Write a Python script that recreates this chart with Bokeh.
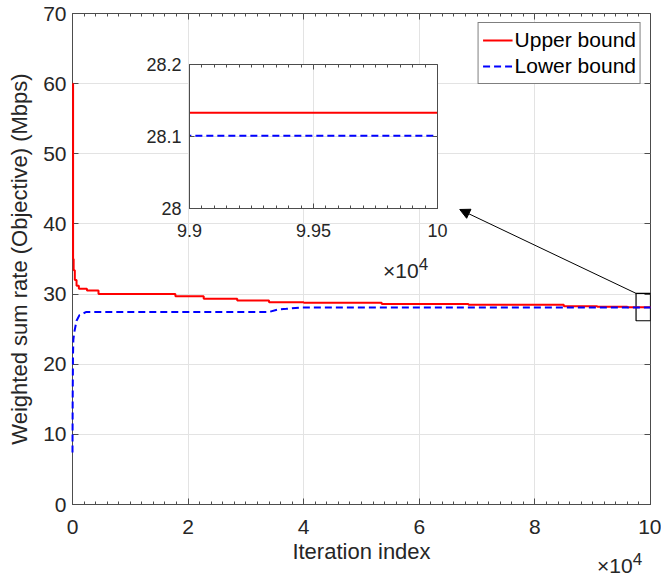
from bokeh.plotting import figure
from bokeh.models import (FixedTicker, CustomJSTickFormatter, LinearAxis, Range1d,
                          Arrow, NormalHead, BoxAnnotation, ColumnDataSource, Div)
from bokeh.layouts import column
from bokeh.embed import file_html
from bokeh.resources import INLINE

# ---------------- data ----------------
upper_iter = [0, 100, 200, 400, 700, 1100, 2500, 4500, 17800, 22700, 28500, 34000,
              40000, 53500, 68500, 85000, 90800, 96000, 100000]
upper_rate = [60.0, 35.0, 33.4, 32.0, 31.2, 30.75, 30.5, 30.0, 29.7, 29.35, 29.1, 28.85,
              28.75, 28.6, 28.47, 28.27, 28.18, 28.133, 28.133]

lower_iter = [0, 30, 80, 150, 300, 700, 1200, 2400, 34000, 35500, 37000, 39500, 60000, 100000]
lower_rate = [7.4, 15.0, 21.0, 23.5, 24.5, 26.2, 27.0, 27.45, 27.45, 27.8, 27.9, 28.09, 28.101, 28.101]

series_names = ["Upper bound", "Lower bound"]

x_ticks = [0, 20000, 40000, 60000, 80000, 100000]
x_minor = list(range(0, 100001, 2000))
y_ticks = [0, 10, 20, 30, 40, 50, 60, 70]

inset_x_ticks = [99000, 99500, 100000]
inset_x_minor = list(range(99000, 100001, 50))
inset_y_ticks = [28.0, 28.1, 28.2]

zoom_box = dict(left=97500, right=100000, bottom=26.2, top=30.1)
arrow_end = (67000, 42.06)

FONT = "Liberation Sans"
AXC = "#4d4d4d"
TXT = "#262626"
GRID = "#e3e3e3"

up_src = ColumnDataSource(dict(x=upper_iter, y=upper_rate))
lo_src = ColumnDataSource(dict(x=lower_iter, y=lower_rate))

x_fmt = CustomJSTickFormatter(code="return String(Number((tick/1e4).toFixed(2)));")
empty_fmt = CustomJSTickFormatter(code="return '';")


def style_axis(ax, size, major=6, minor=3):
    ax.axis_line_color = AXC
    ax.major_tick_line_color = AXC
    ax.minor_tick_line_color = AXC
    ax.major_tick_in = major
    ax.major_tick_out = 0
    ax.minor_tick_in = minor
    ax.minor_tick_out = 0
    ax.major_label_text_font = FONT
    ax.major_label_text_font_size = size
    ax.major_label_text_color = TXT
    ax.axis_label_text_font = FONT
    ax.axis_label_text_color = TXT
    ax.axis_label_text_font_style = "normal"


def box_axes(p, xt, yt, xr, yr, major=6, minor=3):
    # top and right edges of the box: drawn at the range ends, taking no border space
    top = LinearAxis(ticker=xt, formatter=empty_fmt, fixed_location=yr.end)
    right = LinearAxis(ticker=yt, formatter=empty_fmt, fixed_location=xr.end)
    for a in (top, right):
        style_axis(a, "0px", major, minor)
        a.major_label_standoff = 0
        a.axis_label_standoff = 0
    p.add_layout(top, "above")
    p.add_layout(right, "right")


# ---------------- main figure ----------------
xr = Range1d(0, 100000)
yr = Range1d(0, 70)
p = figure(frame_width=578, frame_height=491, output_backend="svg", toolbar_location=None,
           x_range=xr, y_range=yr,
           min_border_left=72, min_border_right=11, min_border_top=13, min_border_bottom=74)
p.background_fill_color = "white"
p.border_fill_color = "white"
p.outline_line_color = AXC

xt = FixedTicker(ticks=x_ticks, minor_ticks=x_minor)
yt = FixedTicker(ticks=y_ticks, minor_ticks=[])
p.xaxis.ticker = xt
p.yaxis.ticker = yt
p.xaxis.formatter = x_fmt
style_axis(p.xaxis[0], "21px")
style_axis(p.yaxis[0], "21px")
p.xaxis.major_label_standoff = 15
p.yaxis.major_label_standoff = 6
p.xaxis.axis_label = "Iteration index"
p.yaxis.axis_label = "Weighted sum rate (Objective) (Mbps)"
p.xaxis.axis_label_text_font_size = "22px"
p.yaxis.axis_label_text_font_size = "22px"
p.xaxis.axis_label_standoff = 2
p.yaxis.axis_label_standoff = 8
box_axes(p, xt, yt, xr, yr)

p.xgrid.ticker = xt
p.ygrid.ticker = yt
p.xgrid.grid_line_color = GRID
p.ygrid.grid_line_color = GRID

p.step("x", "y", source=up_src, mode="after", line_color="#ff0000", line_width=2,
       legend_label=series_names[0], level="overlay")
p.line("x", "y", source=lo_src, line_color="#0000ff", line_width=2, line_dash="7 4",
       legend_label=series_names[1], level="overlay")

p.add_layout(BoxAnnotation(fill_alpha=0, line_color="black", line_alpha=1, line_width=1.2,
                           **zoom_box))
p.add_layout(Arrow(end=NormalHead(size=10, fill_color="black", line_color="black"),
                   x_start=zoom_box["left"], y_start=zoom_box["top"],
                   x_end=arrow_end[0], y_end=arrow_end[1],
                   line_color="black", line_width=1))

lg = p.legend[0]
lg.location = "top_right"
lg.margin = 9
lg.border_line_color = "black"
lg.border_line_width = 1
lg.background_fill_alpha = 1
lg.label_text_font = FONT
lg.label_text_font_size = "21px"
lg.label_text_color = "black"
lg.glyph_width = 30
lg.glyph_height = 26
lg.label_height = 26
lg.label_standoff = 2
lg.padding = 4
lg.spacing = 0

# ---------------- inset figure ----------------
ixr = Range1d(99000, 100000)
iyr = Range1d(28.0, 28.2)
q = figure(width=340, height=232, output_backend="svg", toolbar_location=None,
           x_range=ixr, y_range=iyr,
           min_border_left=71, min_border_right=20, min_border_top=12, min_border_bottom=76)
q.background_fill_color = "white"
q.border_fill_color = None
q.outline_line_color = AXC

ixt = FixedTicker(ticks=inset_x_ticks, minor_ticks=inset_x_minor)
iyt = FixedTicker(ticks=inset_y_ticks, minor_ticks=[])
q.xaxis.ticker = ixt
q.yaxis.ticker = iyt
q.xaxis.formatter = x_fmt
q.yaxis.formatter = CustomJSTickFormatter(code="return String(Number(tick.toFixed(1)));")
style_axis(q.xaxis[0], "18px", 5, 3)
style_axis(q.yaxis[0], "18px", 5, 3)
q.xaxis.major_label_standoff = 15
q.yaxis.major_label_standoff = 8
box_axes(q, ixt, iyt, ixr, iyr, 5, 3)
q.xgrid.ticker = ixt
q.ygrid.ticker = iyt
q.xgrid.grid_line_color = GRID
q.ygrid.grid_line_color = GRID

q.step("x", "y", source=up_src, mode="after", line_color="#ff0000", line_width=2)
q.line("x", "y", source=lo_src, line_color="#0000ff", line_width=2, line_dash="7 4")

q.margin = (-526, 0, 0, 117)

# ---------------- "x10^4" exponent labels ----------------
EXP_HTML = ('<div style="font-family:\'Liberation Sans\';font-size:21px;line-height:21px;'
            'padding-top:6px;color:#262626;white-space:nowrap">&times;10<span style="position:'
            'relative;top:-8px;font-size:17px">4</span></div>')
exp_main = Div(text=EXP_HTML, width=64, height=28, margin=(265, 0, 0, 597))
exp_inset = Div(text=EXP_HTML, width=60, height=28, margin=(-323, 0, 0, 383))

layout = column(p, q, exp_main, exp_inset, width=661, height=578,
                styles={"overflow": "hidden"})
open("out.html", "w").write(file_html(layout, INLINE))
